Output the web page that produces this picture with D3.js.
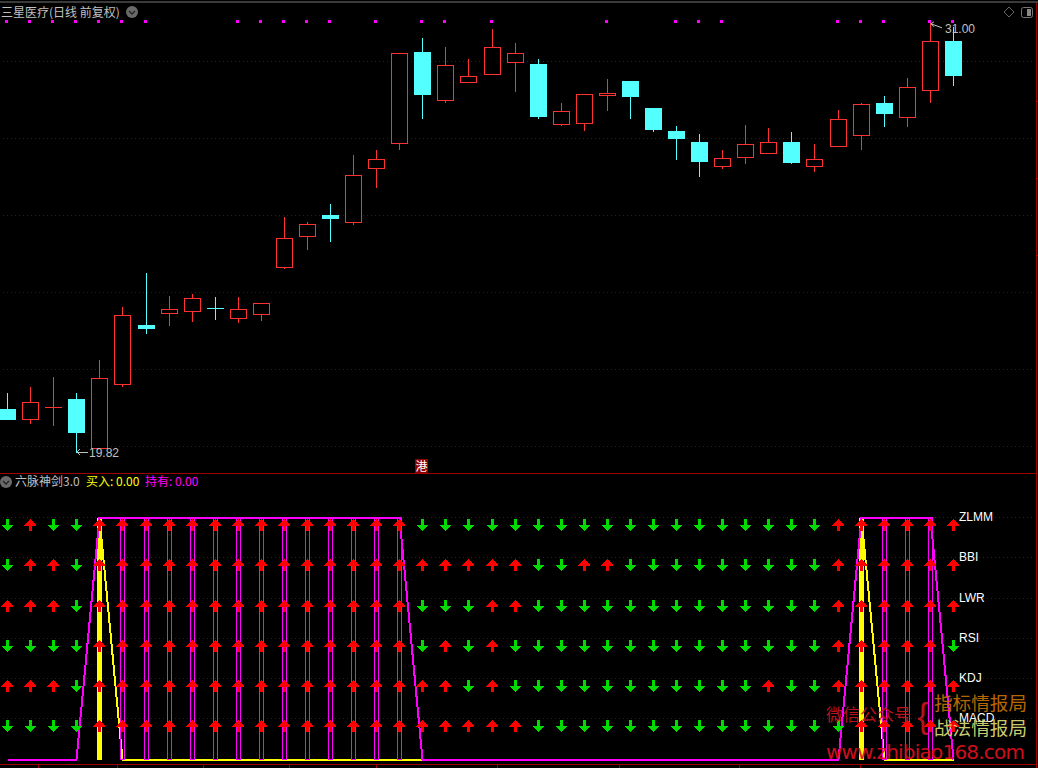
<!DOCTYPE html>
<html><head><meta charset="utf-8">
<style>html,body{margin:0;padding:0;background:#000;overflow:hidden}svg{display:block}
text{font-family:"Noto Sans CJK SC","Liberation Sans",sans-serif}</style>
<script src="https://cdn.jsdelivr.net/npm/d3@7/dist/d3.min.js"></script></head><body>
<script>
const opens =[20.97,20.72,21.01,21.23,19.95,21.63,23.15,23.47,23.52,23.58,23.34,23.44,24.66,25.47,26.01,25.82,27.24,27.89,30.24,29.00,29.47,29.68,29.99,29.93,28.38,28.41,29.12,29.49,28.79,28.19,27.90,27.29,27.52,27.63,27.90,27.29,27.81,28.09,28.92,28.56,29.26,30.53];
const highs =[21.38,21.54,21.80,21.38,22.24,23.62,24.50,23.90,23.96,23.88,23.88,23.71,25.95,25.82,26.29,27.57,27.70,30.21,30.61,30.37,30.06,30.84,30.48,30.06,28.92,29.14,29.54,29.49,28.79,28.32,28.11,27.70,28.35,28.27,28.16,27.85,28.74,28.92,29.10,29.57,31.00,30.89];
const lows  =[20.71,20.59,20.54,19.82,19.95,21.55,22.92,23.13,23.24,23.29,23.21,23.26,24.61,25.10,25.31,25.75,26.71,27.70,28.50,28.92,29.44,29.64,29.20,28.50,28.32,28.19,28.71,28.50,28.16,27.44,27.00,27.20,27.33,27.63,27.33,27.12,27.81,27.70,28.29,28.29,28.92,29.36];
const closes=[20.71,21.14,21.01,20.38,21.77,23.40,23.07,23.56,23.84,23.58,23.56,23.71,25.40,25.77,25.93,27.04,27.45,30.21,29.15,29.90,29.61,30.36,30.21,28.58,28.70,29.14,29.17,29.10,28.24,28.01,27.41,27.48,27.84,27.90,27.38,27.45,28.49,28.88,28.66,29.32,30.52,29.64];
const upColors=[0,1,1,0,1,1,0,1,1,0,1,1,1,1,0,1,1,1,0,1,1,1,1,0,1,1,1,0,0,0,0,1,1,1,0,1,1,1,0,1,1,0];
const flagBars=[0,1,2,3,4,5,6,10,11,12,13,14,16,18,19,21,26,29,30,31,36,37,38,40,41];
const priceTicks=[20,22,24,26,28,30];
const rowNames=["ZLMM","BBI","LWR","RSI","KDJ","MACD"];
const rowLevels=[517.3,557.3,598.3,638.3,678.3,718.3];
const zlmmSig=[0,1,0,0,1,1,1,1,1,1,1,1,1,1,1,1,1,1,0,0,0,0,0,0,0,0,0,0,0,0,0,0,0,0,0,0,1,1,1,1,1,1];
const bbiSig =[0,1,1,0,1,1,1,1,1,1,1,1,1,1,1,1,1,1,1,1,1,1,1,0,0,1,1,0,0,0,0,0,0,0,0,0,1,1,1,1,1,1];
const lwrSig =[1,1,1,0,1,1,1,1,1,1,1,1,1,1,1,1,1,1,0,0,0,1,1,0,0,0,0,0,0,0,0,0,0,0,0,0,1,1,1,1,1,1];
const rsiSig =[0,0,0,0,1,1,1,1,1,1,1,1,1,1,1,1,1,1,0,1,0,1,0,0,0,0,0,0,0,0,0,0,0,0,0,0,1,1,1,1,1,0];
const kdjSig =[1,1,1,0,1,1,1,1,1,1,1,1,1,1,1,1,1,1,1,1,0,1,0,0,0,0,0,0,0,0,0,0,0,1,0,0,1,1,1,1,1,1];
const macdSig=[0,0,0,0,1,1,1,1,1,1,1,1,1,1,1,1,1,1,1,1,1,1,1,0,0,0,0,0,0,0,0,0,0,0,0,0,0,1,1,1,1,1];
const buySeries =[0,0,0,0,1,0,0,0,0,0,0,0,0,0,0,0,0,0,0,0,0,0,0,0,0,0,0,0,0,0,0,0,0,0,0,0,0,1,0,0,0,0];
const holdSeries=[0,0,0,0,1,1,1,1,1,1,1,1,1,1,1,1,1,1,0,0,0,0,0,0,0,0,0,0,0,0,0,0,0,0,0,0,0,1,1,1,1,0];
const timeTicks=[1.3,4.75,8.45,12.2,15.95,21.2,26.5,31.7,36.97];

const RED="#ff3232",CYAN="#54ffff",GRID="#7a0000",AXIS="#a00000",GREY="#c0c0c0";
const svg=d3.select("body").append("svg").attr("width",1038).attr("height",768);
svg.append("rect").attr("width",1038).attr("height",768).attr("fill","#000");
const x=d3.scaleLinear().domain([0,41]).range([7.665,953.33]);
const y=d3.scaleLinear().domain([20,30]).range([446.3,61.3]);
const yInd=d3.scaleLinear().domain([0,1]).range([759.5,517.5]);
const px=i=>Math.floor(x(i));
const idx=d3.range(opens.length);
const crisp=g=>g.attr("shape-rendering","crispEdges");

// frame
const frame=svg.append("g").call(crisp);
frame.append("line").attr("x1",0).attr("x2",1038).attr("y1",2).attr("y2",2).attr("stroke","#3a3a3a").attr("stroke-width",2);
frame.append("line").attr("x1",0).attr("x2",1036).attr("y1",473.5).attr("y2",473.5).attr("stroke",AXIS);
frame.append("line").attr("x1",1036.5).attr("x2",1036.5).attr("y1",3).attr("y2",768).attr("stroke",AXIS).attr("stroke-width",1);

// grids
const gridG=svg.append("g").call(crisp);
gridG.selectAll(".gp").data(priceTicks).join("line").attr("x1",3).attr("x2",1033)
 .attr("y1",d=>Math.floor(y(d))+.5).attr("y2",d=>Math.floor(y(d))+.5).attr("stroke",GRID).attr("stroke-dasharray","1 3");
gridG.selectAll(".gr").data(rowLevels).join("line").attr("x1",3).attr("x2",1033)
 .attr("y1",d=>Math.floor(d)+.5).attr("y2",d=>Math.floor(d)+.5).attr("stroke",GRID).attr("stroke-dasharray","1 3");

// time axis
const axisG=svg.append("g").attr("transform","translate(0,764.5)")
 .call(d3.axisBottom(x).tickValues(timeTicks).tickSize(3).tickFormat(""));
axisG.select(".domain").attr("d","M0,0H1036").attr("stroke",AXIS);
axisG.selectAll("line").attr("stroke",AXIS);
axisG.call(crisp);

// right-side ticks
const rt=svg.append("g").call(crisp);
rt.selectAll("line").data([26,28,30]).join("line").attr("x1",1036).attr("x2",1038)
 .attr("y1",d=>Math.floor(y(d))+40).attr("y2",d=>Math.floor(y(d))+40).attr("stroke",AXIS);

// flags
svg.append("g").call(crisp).selectAll("rect").data(flagBars).join("rect")
 .attr("x",i=>px(i)-2).attr("y",20).attr("width",3).attr("height",3).attr("fill","#ff00ff");

// candles
const cg=svg.append("g").call(crisp);
idx.forEach(i=>{
  const g=cg.append("g"),c=px(i),color=upColors[i]?RED:CYAN;
  const top=Math.round(y(Math.max(opens[i],closes[i]))),bot=Math.round(y(Math.min(opens[i],closes[i])));
  const hi=Math.round(y(highs[i])),lo=Math.round(y(lows[i]));
  g.append("line").attr("x1",c+.5).attr("x2",c+.5).attr("y1",hi).attr("y2",lo).attr("stroke",color);
  if(bot-top<1){
    g.append("line").attr("x1",c-8).attr("x2",c+9).attr("y1",top+.5).attr("y2",top+.5).attr("stroke",color);
  }else if(upColors[i]){
    g.append("rect").attr("x",c-7.5).attr("y",top+.5).attr("width",16).attr("height",bot-top)
      .attr("fill","#000").attr("stroke",color);
  }else{
    g.append("rect").attr("x",c-8).attr("y",top).attr("width",17).attr("height",bot-top+1).attr("fill",color);
  }
});

// price annotations
const ann=svg.append("g");
const iLow=lows.indexOf(d3.min(lows)),iHigh=highs.indexOf(d3.max(highs));
ann.append("path").attr("fill","none").attr("stroke",GREY).attr("shape-rendering","crispEdges")
 .attr("d",`M${px(iLow)+12},${y(lows[iLow])-1}H${px(iLow)+1}M${px(iLow)+4},${y(lows[iLow])-4}L${px(iLow)+1},${y(lows[iLow])-1}L${px(iLow)+4},${y(lows[iLow])+2}`);
ann.append("text").attr("x",px(iLow)+13).attr("y",y(lows[iLow])+4).attr("font-size",12).attr("fill",GREY)
 .style("font-family","Liberation Sans").text("19.82");
ann.append("path").attr("fill","none").attr("stroke",GREY)
 .attr("d",`M${px(iHigh)+12},${y(highs[iHigh])+5}L${px(iHigh)+1},${y(highs[iHigh])+1}M${px(iHigh)+4},${y(highs[iHigh])-1}L${px(iHigh)+1},${y(highs[iHigh])+1}L${px(iHigh)+4},${y(highs[iHigh])+4}`);
ann.append("text").attr("x",px(iHigh)+15).attr("y",y(highs[iHigh])+10).attr("font-size",12).attr("fill",GREY)
 .style("font-family","Liberation Sans").text("31.00");

// titles
function chevron(cx,cy){
  const g=svg.append("g");
  g.append("circle").attr("cx",cx).attr("cy",cy).attr("r",6).attr("fill","#6a6a6a");
  g.append("path").attr("d",`M${cx-3},${cy-1}L${cx},${cy+2}L${cx+3},${cy-1}`).attr("fill","none").attr("stroke","#222").attr("stroke-width",1.3);
}
svg.append("text").attr("x",1).attr("y",17).attr("font-size",12).attr("fill",GREY).text("三星医疗(日线 前复权)");
chevron(132,12);
chevron(6,482);
svg.append("text").attr("x",15).attr("y",486).attr("font-size",12).attr("fill",GREY).text("六脉神剑3.0");
svg.append("text").attr("x",86).attr("y",486).attr("font-size",12).attr("fill","#ffff00").text("买入: 0.00");
svg.append("text").attr("x",145).attr("y",486).attr("font-size",12).attr("fill","#ff00ff").text("持有: 0.00");
svg.append("path").attr("d","M1009,7L1014,12L1009,17L1004,12Z").attr("fill","none").attr("stroke","#666");
svg.append("rect").attr("x",1021.5).attr("y",7.5).attr("width",11).attr("height",10).attr("rx",2).attr("fill","none").attr("stroke","#777");
svg.append("rect").attr("x",1027).attr("y",9).attr("width",4).attr("height",7).attr("fill","#888");
svg.append("rect").attr("x",415).attr("y",459).attr("width",13).attr("height",14).attr("fill","#8b0000");
svg.append("text").attr("x",421.5).attr("y",471).attr("text-anchor","middle").attr("font-size",12).attr("fill","#fff").text("港");

// indicator lines and sticks
const line=d3.line().x((d,i)=>px(i)+.5).y(d=>yInd(d));
svg.append("path").datum(buySeries).attr("d",line).attr("fill","none").attr("stroke","#ffff00").attr("stroke-width",2).attr("shape-rendering","crispEdges");
const sticks=svg.append("g").call(crisp);
idx.filter(i=>buySeries[i]).forEach(i=>sticks.append("rect").attr("x",px(i)-2).attr("y",yInd(1)).attr("width",5).attr("height",yInd(0)-yInd(1)).attr("fill","#ffff00"));
idx.filter(i=>holdSeries[i]&&!buySeries[i]).forEach(i=>sticks.append("rect").attr("x",px(i)-1.5).attr("y",Math.floor(yInd(1))+.5).attr("width",4).attr("height",yInd(0)-yInd(1)).attr("fill","none").attr("stroke","#ff00ff"));
svg.append("path").datum(holdSeries).attr("d",line).attr("fill","none").attr("stroke","#ff00ff").attr("stroke-width",2).attr("shape-rendering","crispEdges");

// arrows
const upArrow="M0.5,0L6.5,6.5H2V12H-1V6.5H-5.5Z";
const downArrow="M-1,0H2V5.5H6.5L0.5,12L-5.5,5.5H-1Z";
const signalRows=[zlmmSig,bbiSig,lwrSig,rsiSig,kdjSig,macdSig];
const ag=svg.append("g").call(crisp);
signalRows.forEach((row,r)=>{
  ag.selectAll(null).data(row).join("path")
   .attr("transform",(d,i)=>`translate(${px(i)},${Math.floor(rowLevels[r])+2})`)
   .attr("d",d=>d?upArrow:downArrow).attr("fill",d=>d?"#ff0000":"#00dc00");
});

// row labels
svg.append("g").selectAll("text").data(rowNames).join("text")
 .attr("x",959).attr("y",(d,i)=>rowLevels[i]+4).attr("font-size",12).attr("fill","#fff")
 .style("font-family","Liberation Sans").text(d=>d);

// watermark
const wm=svg.append("g").attr("opacity",.92);
wm.append("text").attr("x",826).attr("y",721).attr("font-size",17).attr("fill","#c81420").text("微信公众号");
wm.append("text").attr("x",917).attr("y",729).attr("font-size",38).attr("fill","#c81420").style("font-family","Liberation Sans").style("font-weight",300).attr("transform","translate(92,72) scale(.9)").text("{");
wm.append("text").attr("x",934).attr("y",710).attr("font-size",18.6).attr("fill","#c87000").text("指标情报局");
wm.append("text").attr("x",934).attr("y",735).attr("font-size",18.6).attr("fill","#dcdc78").text("战法情报局");
wm.append("text").attr("x",826).attr("y",759).attr("font-size",20).attr("textLength",199).attr("fill","#e01020").style("font-family","DejaVu Sans").text("www.zhibiao168.com");
</script></body></html>
